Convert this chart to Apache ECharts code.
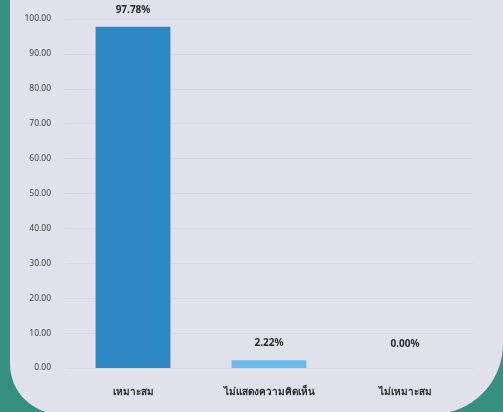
<!DOCTYPE html>
<html><head><meta charset="utf-8">
<script src="https://cdn.jsdelivr.net/npm/echarts@6/dist/echarts.min.js"></script>
<style>
html,body{margin:0;padding:0;width:503px;height:412px;overflow:hidden;background:#35907f;}
#card{position:absolute;left:10px;top:-40px;width:493px;height:454px;background:#e0e1ea;border-radius:0 0 70px 50px;}
#c{position:absolute;left:0;top:0;width:503px;height:412px;}
</style></head>
<body><div id="card"></div><div id="c"></div>
<script>
const categories = ['เหมาะสม', 'ไม่แสดงความคิดเห็น', 'ไม่เหมาะสม'];
const values = [97.78, 2.22, 0.00];
const barColors = ['#2d87c3', '#6cb9ec', '#6cb9ec'];
const labelDistances = [12, 12, 19];

const chart = echarts.init(document.getElementById('c'));
chart.setOption({
  animation: false,
  textStyle: {fontFamily: 'Noto Sans, DejaVu Sans, sans-serif'},
  grid: {left: 65, right: 30, top: 19, bottom: 44},
  xAxis: {
    type: 'category', data: categories,
    axisLine: {show: false}, axisTick: {show: false},
    axisLabel: {color: '#2a2a2a', fontSize: 10, fontWeight: 'bold', margin: 19, interval: 0}
  },
  yAxis: {
    type: 'value', min: 0, max: 100, interval: 10,
    axisLine: {show: false}, axisTick: {show: false},
    axisLabel: {color: '#444', fontSize: 8.5, margin: 14, formatter: v => v.toFixed(2)},
    splitLine: {lineStyle: {color: '#d6d8e2', width: 1}}
  },
  series: [{
    type: 'bar', barWidth: '55%',
    data: values.map((v, i) => ({
      value: v,
      itemStyle: {color: barColors[i]},
      label: {distance: labelDistances[i]}
    })),
    label: {show: true, position: 'top', color: '#2a2a2a', fontSize: 10, fontWeight: 'bold',
      formatter: p => p.value.toFixed(2) + '%'}
  }]
});
</script></body></html>
